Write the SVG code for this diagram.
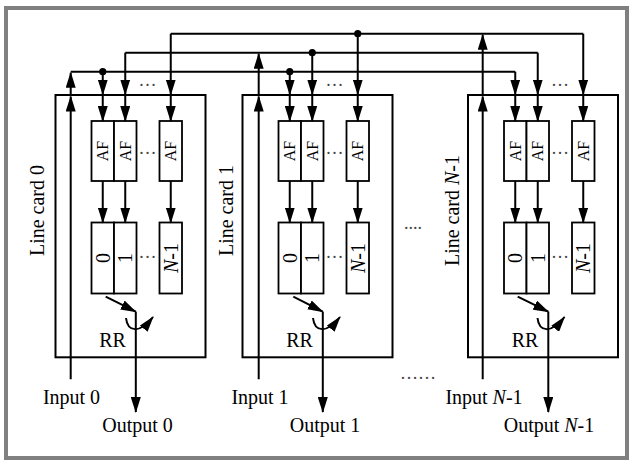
<svg xmlns="http://www.w3.org/2000/svg" width="632" height="460" viewBox="0 0 632 460">
<style>
.frame{fill:#fff;stroke:#808080;stroke-width:4}
.bx{fill:#fff;stroke:#000;stroke-width:2}
.ib{fill:#fff;stroke:#000;stroke-width:1.8}
.ln{fill:none;stroke:#000;stroke-width:2}
.ar{fill:none;stroke:#000;stroke-width:2;marker-end:url(#ah)}
.t{font-family:"Liberation Serif","Times New Roman",serif;font-size:20px;fill:#000}
.af{font-size:16px}
.dt{font-family:"Liberation Serif","Times New Roman",serif;font-size:18px;fill:#444}
</style>
<defs>
<marker id="ah" viewBox="0 0 16 10" refX="15" refY="5" markerWidth="16" markerHeight="10" markerUnits="userSpaceOnUse" orient="auto">
<path d="M0,0 L16,5 L0,10 z" fill="#000"/>
</marker>
<g id="cardbody">
<rect class="bx" x="0" y="95" width="150" height="262.3"/>
<rect class="ib" x="36" y="121" width="22.5" height="60"/>
<rect class="ib" x="58.5" y="121" width="22.5" height="60"/>
<rect class="ib" x="104" y="121" width="22.5" height="60"/>
<rect class="ib" x="36" y="222.5" width="22.5" height="71"/>
<rect class="ib" x="58.5" y="222.5" width="22.5" height="71"/>
<rect class="ib" x="104" y="222.5" width="22.5" height="71"/>
<text class="t af" transform="translate(47.25,151) rotate(-90)" x="0" y="5.5" text-anchor="middle">AF</text>
<text class="t af" transform="translate(69.75,151) rotate(-90)" x="0" y="5.5" text-anchor="middle">AF</text>
<text class="t af" transform="translate(115.25,151) rotate(-90)" x="0" y="5.5" text-anchor="middle">AF</text>
<text class="t" transform="translate(47.25,258) rotate(-90)" x="0" y="6.8" text-anchor="middle">0</text>
<text class="t" transform="translate(69.75,258) rotate(-90)" x="0" y="6.8" text-anchor="middle">1</text>
<text class="t" transform="translate(115.25,258) rotate(-90)" x="0" y="6.8" text-anchor="middle"><tspan font-style="italic">N</tspan>-1</text>
<text class="dt" x="92" y="154" text-anchor="middle">…</text>
<text class="dt" x="92" y="258" text-anchor="middle">…</text>
<text class="dt" x="92" y="86" text-anchor="middle">…</text>
<text class="t" x="57" y="347" text-anchor="middle">RR</text>
</g>
</defs>
<rect class="frame" x="6" y="8" width="621" height="450"/>

<g id="card0">
<use href="#cardbody" x="55.5"/>
<text class="t" transform="translate(44,210.5) rotate(-90)" text-anchor="middle">Line card 0</text>
<text class="t" x="71.5" y="404" text-anchor="middle">Input 0</text>
<text class="t" x="137.5" y="431.5" text-anchor="middle">Output 0</text>
</g>
<g id="card1">
<use href="#cardbody" x="242.5"/>
<text class="t" transform="translate(233,210.5) rotate(-90)" text-anchor="middle">Line card 1</text>
<text class="t" x="260" y="404" text-anchor="middle">Input 1</text>
<text class="t" x="325" y="431.5" text-anchor="middle">Output 1</text>
</g>
<g id="cardN1">
<use href="#cardbody" x="468"/>
<text class="t" transform="translate(459.3,210.5) rotate(-90)" text-anchor="middle">Line card <tspan font-style="italic">N</tspan>-1</text>
<text class="t" x="484" y="404" text-anchor="middle">Input <tspan font-style="italic">N</tspan>-1</text>
<text class="t" x="549" y="431.5" text-anchor="middle">Output <tspan font-style="italic">N</tspan>-1</text>
</g>

<g id="between">
<text class="dt" x="413" y="229" text-anchor="middle">....</text>
<text class="dt" x="418" y="379" text-anchor="middle">……</text>
</g>

<g id="connectors">
<!-- buses -->
<path class="ln" d="M170.75,33.7 H583.25"/>
<path class="ln" d="M125.25,52.7 H537.75"/>
<path class="ln" d="M70.7,71.7 H515.25"/>
<circle cx="102.75" cy="71.7" r="3.6"/>
<circle cx="289.75" cy="71.7" r="3.6"/>
<circle cx="312.25" cy="52.7" r="3.6"/>
<circle cx="357.75" cy="33.7" r="3.6"/>
<!-- drops to card tops -->
<path class="ar" d="M102.75,71.7 V94.5"/>
<path class="ar" d="M125.25,52.7 V94.5"/>
<path class="ar" d="M170.75,33.7 V94.5"/>
<path class="ar" d="M289.75,71.7 V94.5"/>
<path class="ar" d="M312.25,52.7 V94.5"/>
<path class="ar" d="M357.75,33.7 V94.5"/>
<path class="ar" d="M515.25,71.7 V94.5"/>
<path class="ar" d="M537.75,52.7 V94.5"/>
<path class="ar" d="M583.25,33.7 V94.5"/>
<!-- card top to AF -->
<path class="ar" d="M102.75,95 V121"/>
<path class="ar" d="M125.25,95 V121"/>
<path class="ar" d="M170.75,95 V121"/>
<path class="ar" d="M289.75,95 V121"/>
<path class="ar" d="M312.25,95 V121"/>
<path class="ar" d="M357.75,95 V121"/>
<path class="ar" d="M515.25,95 V121"/>
<path class="ar" d="M537.75,95 V121"/>
<path class="ar" d="M583.25,95 V121"/>
<!-- AF to queues -->
<path class="ar" d="M102.75,181 V222.5"/>
<path class="ar" d="M125.25,181 V222.5"/>
<path class="ar" d="M170.75,181 V222.5"/>
<path class="ar" d="M289.75,181 V222.5"/>
<path class="ar" d="M312.25,181 V222.5"/>
<path class="ar" d="M357.75,181 V222.5"/>
<path class="ar" d="M515.25,181 V222.5"/>
<path class="ar" d="M537.75,181 V222.5"/>
<path class="ar" d="M583.25,181 V222.5"/>
<!-- inputs -->
<path class="ar" d="M70.7,379.3 V96.5"/>
<path class="ar" d="M70.7,95 V72.8"/>
<path class="ar" d="M258.7,379.3 V96.5"/>
<path class="ar" d="M258.7,95 V53.8"/>
<path class="ar" d="M482.7,379.3 V96.5"/>
<path class="ar" d="M482.7,95 V34.8"/>
<!-- RR switches -->
<path class="ar" d="M105.7,296.7 L135.8,311.7"/>
<path class="ar" d="M293.3,296.7 L322.8,311.7"/>
<path class="ar" d="M517.7,296.7 L548.3,311.7"/>
<path class="ar" d="M126,318 C127.5,332 139.5,334 153,317"/>
<path class="ar" d="M313,318 C314.5,332 326.5,334 340,317"/>
<path class="ar" d="M537.5,318 C539,332 551,334 564.5,317"/>
<!-- outputs -->
<path class="ar" d="M135.8,311.7 V412"/>
<path class="ar" d="M322.8,311.7 V412"/>
<path class="ar" d="M548.3,311.7 V412"/>
</g>
</svg>
